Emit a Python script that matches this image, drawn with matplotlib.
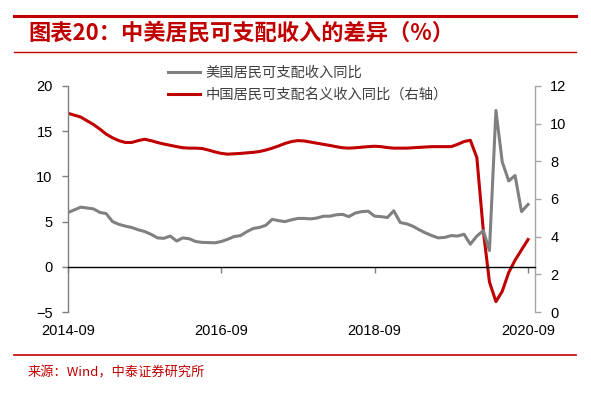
import matplotlib
matplotlib.use("Agg")
import matplotlib.pyplot as plt
import matplotlib.lines as mlines
import pandas as pd

plt.rcParams['font.family'] = ['Liberation Sans', 'Noto Sans CJK SC', 'DejaVu Sans']

# monthly, 2014-09 .. 2020-09
dates = pd.date_range('2014-09-01', '2020-09-01', freq='MS')

# US disposable personal income yoy (left axis)
us_income = [6.0, 6.3, 6.6, 6.5, 6.4, 6.0, 5.9, 5.0, 4.7, 4.5,
             4.35, 4.1, 3.9, 3.6, 3.2, 3.15, 3.4, 2.85, 3.2, 3.1,
             2.8, 2.7, 2.68, 2.65, 2.8, 3.05, 3.35, 3.45, 3.9, 4.25,
             4.35, 4.6, 5.25, 5.1, 5.0, 5.2, 5.35, 5.35, 5.3, 5.4,
             5.6, 5.6, 5.75, 5.8, 5.55, 5.95, 6.1, 6.15, 5.6, 5.55,
             5.45, 6.2, 4.9, 4.75, 4.5, 4.1, 3.75, 3.45, 3.2, 3.25,
             3.45, 3.4, 3.6, 2.5, 3.4, 4.0, 1.8, 17.3, 11.6, 9.5,
             10.1, 6.1, 6.9]

# China nominal disposable income yoy (right axis)
cn_income = [10.55, 10.45, 10.35, 10.15, 9.95, 9.7, 9.45, 9.25, 9.1, 9.0,
             9.0, 9.1, 9.17, 9.1, 9.0, 8.92, 8.85, 8.78, 8.72, 8.7,
             8.7, 8.68, 8.6, 8.5, 8.42, 8.38, 8.4, 8.42, 8.45, 8.48,
             8.52, 8.6, 8.7, 8.82, 8.95, 9.05, 9.1, 9.08, 9.02, 8.96,
             8.9, 8.84, 8.78, 8.72, 8.7, 8.72, 8.75, 8.78, 8.8, 8.78,
             8.73, 8.7, 8.7, 8.7, 8.72, 8.74, 8.76, 8.78, 8.78, 8.78,
             8.78, 8.9, 9.05, 9.12, 8.2, 4.3, 1.6, 0.55, 1.1, 2.1,
             2.75, 3.3, 3.85]

tick_dates = pd.to_datetime(['2014-09-01', '2016-09-01', '2018-09-01', '2020-09-01'])
tick_labels = ['2014-09', '2016-09', '2018-09', '2020-09']

red = '#C00000'
gray = '#808080'

fig = plt.figure(figsize=(5.91, 3.93), dpi=100)
ax = fig.add_axes([0.1151, 0.2061, 0.7901, 0.5751])
ax2 = ax.twinx()

ax.plot(dates, us_income, color=gray, lw=2.2, zorder=3)
ax2.plot(dates, cn_income, color=red, lw=2.2, zorder=3)
ax.set_zorder(ax2.get_zorder() + 1)
ax.patch.set_visible(False)

ax.set_ylim(-5, 20)
ax.set_yticks([-5, 0, 5, 10, 15, 20])
ax2.set_ylim(0, 12)
ax2.set_yticks([0, 2, 4, 6, 8, 10, 12])
ax.set_xlim(pd.Timestamp('2014-09-01'), pd.Timestamp('2020-10-04'))

for a in (ax, ax2):
    a.spines['top'].set_visible(False)
ax.spines['right'].set_visible(False)
ax2.spines['left'].set_visible(False)
ax2.spines['bottom'].set_visible(False)
ax.spines['left'].set_color('#7f7f7f')
ax.spines['left'].set_linewidth(1.0)
ax2.spines['right'].set_color('#a6a6a6')
ax2.spines['right'].set_linewidth(1.0)
ax.spines['bottom'].set_position(('data', 0))
ax.spines['bottom'].set_color('black')
ax.spines['bottom'].set_linewidth(1.0)

ax.set_xticks(tick_dates)
ax.set_xticklabels(tick_labels)
ax.tick_params(axis='x', direction='out', length=4, width=1, color='#7f7f7f',
               pad=37, labelsize=10.5)
ax.tick_params(axis='y', direction='out', length=4, width=1, color='#7f7f7f',
               pad=7, labelsize=10.5)
ax2.tick_params(axis='y', direction='out', length=4, width=1, color='#a6a6a6',
                pad=7, labelsize=10.5)

# legend
h1 = mlines.Line2D([], [], color=gray, lw=2.2)
h2 = mlines.Line2D([], [], color=red, lw=2.2)
fig.legend([h1, h2], ['美国居民可支配收入同比', '中国居民可支配名义收入同比（右轴）'],
           loc='upper left', bbox_to_anchor=(0.263, 0.865), frameon=False,
           prop={'family': ['Noto Sans CJK SC', 'DejaVu Sans'], 'size': 10.3},
           handlelength=2.2, handletextpad=0.4, labelspacing=0.55,
           labelcolor='#404040')

# frame lines and texts
fig.add_artist(mlines.Line2D([0.024, 0.975], [0.960, 0.960], color=red, lw=2.2,
                             transform=fig.transFigure))
fig.add_artist(mlines.Line2D([0.024, 0.975], [0.868, 0.868], color=red, lw=1.0,
                             transform=fig.transFigure))
fig.add_artist(mlines.Line2D([0.024, 0.975], [0.097, 0.097], color=red, lw=1.2,
                             transform=fig.transFigure))
fig.text(0.048, 0.915, '图表20：中美居民可支配收入的差异（%）', color=red,
         fontsize=16, fontweight='bold', style='italic',
         family=['Noto Sans CJK SC', 'DejaVu Sans'], va='center', ha='left')
fig.text(0.046, 0.05, '来源：Wind，中泰证券研究所', color=red, fontsize=9.5,
         family=['Noto Sans CJK SC', 'DejaVu Sans'], va='center', ha='left')

fig.savefig('out.png', dpi=100)
